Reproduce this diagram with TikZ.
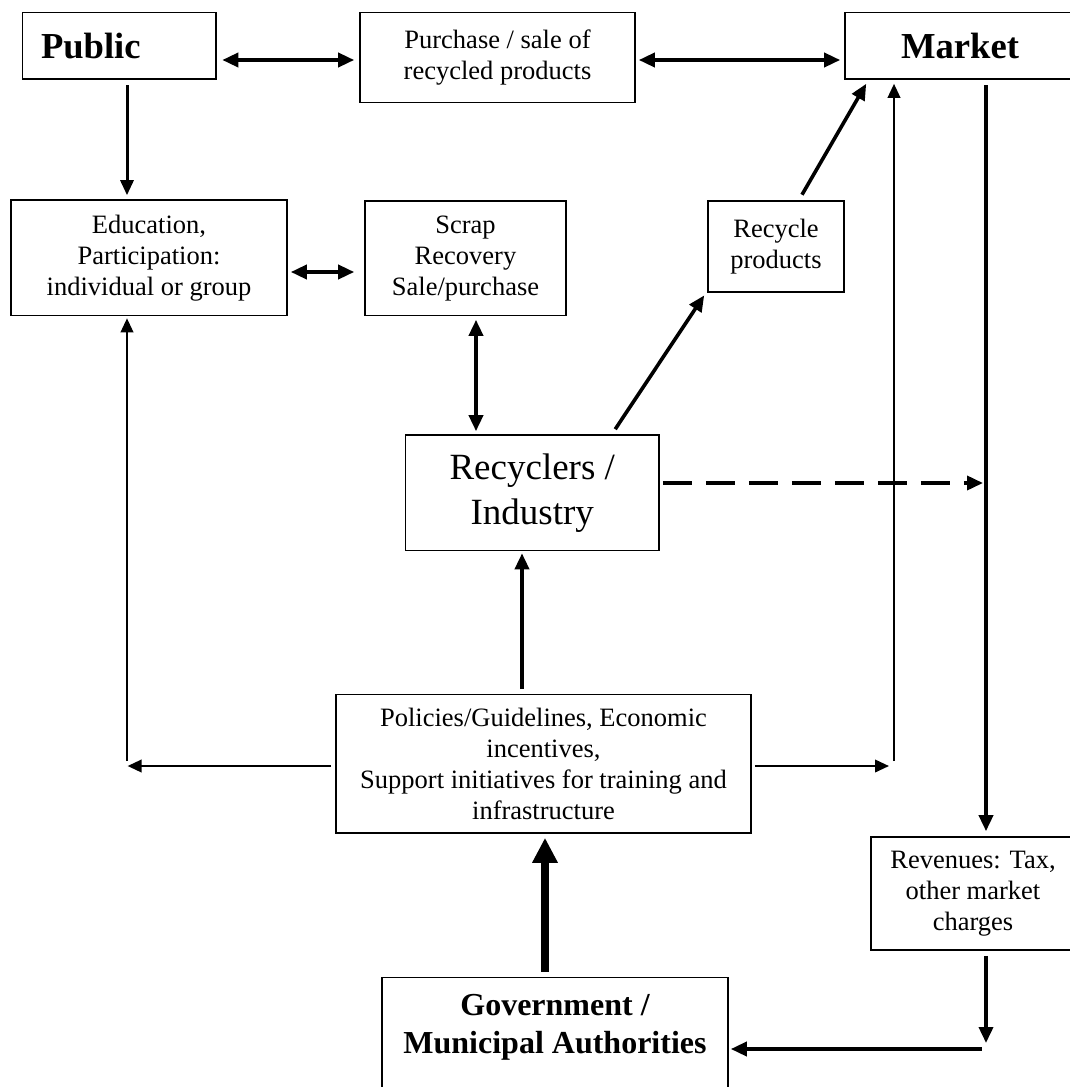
\documentclass[tikz,border=0pt]{standalone}
\usepackage{fontspec}
\setmainfont{Liberation Serif}
\usetikzlibrary{arrows.meta,calc}
\begin{document}
\begin{tikzpicture}[x=1pt,y=-1pt,
  box/.style={draw,line width=1.6pt,inner sep=0pt,align=center,
    font=\fontsize{26.5}{31}\selectfont},
  bigbold/.style={font=\fontsize{36.6}{40}\selectfont\bfseries},
  dbl/.style={line width=3.6pt,{Triangle[length=16pt,width=14pt]}-{Triangle[length=16pt,width=14pt]}},
  thk/.style={line width=3.6pt,-{Triangle[length=16pt,width=14pt]}},
  mid/.style={line width=3pt,-{Triangle[length=15pt,width=13pt]}},
  thn/.style={line width=2.2pt,-{Triangle[length=14pt,width=12.5pt]}},
  dsh/.style={line width=3.6pt,dash pattern=on 29pt off 14pt,-{Triangle[length=16pt,width=14pt]}},
  huge/.style={line width=7.8pt,-{Triangle[length=25pt,width=24pt]}},
]
\useasboundingbox (0,0) rectangle (1070,1087);

% boxes
\node[box,minimum width=193.5,minimum height=66.5,text width=156.5,align=left,bigbold] (public) at (119.25,45.75) {Public};
\node[box,minimum width=275,minimum height=90] (purchase) at (497.5,57.5) {Purchase / sale of\\recycled products};
\node[box,minimum width=230,minimum height=66.5,bigbold] (market) at (960,45.75) {Market};
\node[box,minimum width=276,minimum height=115.5] (edu) at (149,257.75) {Education,\\Participation:\\individual or group};
\node[box,minimum width=201,minimum height=114.5] (scrap) at (465.5,258.25) {Scrap\\Recovery\\Sale/purchase};
\node[box,minimum width=136,minimum height=91] (recycle) at (776,246.5) {Recycle\\products};
\node[box,minimum width=253.5,minimum height=115.5,font=\fontsize{37}{45}\selectfont] (recyclers) at (532.25,492.75) {Recyclers /\\Industry};
\node[box,minimum width=415,minimum height=138.4] (policies) at (543.5,763.8) {Policies/Guidelines, Economic\\incentives,\\Support initiatives for training and\\infrastructure};
\node[box,minimum width=204,minimum height=113] (revenues) at (973,893.5) {Revenues: Tax,\\other market\\charges};
\node[box,minimum width=346,minimum height=117.5] (gov) at (555,1036.25) {};
\node[align=center,inner sep=0pt,font=\fontsize{32}{38}\selectfont\bfseries] (govtext) at (555,1027) {Government /\\Municipal Authorities};

% helper coordinates
\coordinate (r60) at (0,60);
\coordinate (r272) at (0,272);
\coordinate (c127) at (127,0);
\coordinate (c476) at (476,0);
\coordinate (c522) at (522,0);
\coordinate (c545) at (545,0);
\coordinate (c986) at (986,0);
\coordinate (r766) at (0,766);
\coordinate (dashend) at (983,483);
\coordinate (lcorner) at (127.6,766);
\coordinate (lbot) at (127,760.5);
\coordinate (rcorner) at (889,766);
\coordinate (rbot) at (894,761);
\coordinate (rbend) at (986,1043);
\coordinate (hstart) at (981.6,1049);

% connectors
\draw[dbl,shorten <=5.5pt,shorten >=5pt] (public.east |- r60) -- (purchase.west |- r60);
\draw[dbl,shorten <=3pt,shorten >=4pt] (purchase.east |- r60) -- (market.west |- r60);
\draw[mid,shorten <=5.5pt,shorten >=4pt] (public.south -| c127) -- (edu.north -| c127);
\draw[dbl,shorten <=3pt,shorten >=10pt] (edu.east |- r272) -- (scrap.west |- r272);
\draw[dbl,shorten <=3.5pt,shorten >=3pt] (scrap.south -| c476) -- (recyclers.north -| c476);
\draw[thk] ($(recyclers.north west)+(210.5,-5)$) -- ($(recycle.south west)+(-3,2.6)$);
\draw[thk] ($(recycle.north)+(26,-5.5)$) -- ($(market.south west)+(22,4)$);
\draw[dsh,shorten <=3pt] (recyclers.east |- dashend) -- (dashend);
\draw[thk,shorten <=4.6pt,shorten >=2pt] (policies.north -| c522) -- (recyclers.south -| c522);
\draw[thn,shorten <=4pt] (policies.west |- r766) -- (lcorner);
\draw[thn,shorten >=2pt] (lbot) -- (edu.south -| lbot);
\draw[thn,shorten <=3pt] (policies.east |- r766) -- (rcorner);
\draw[thn,shorten >=4pt] (rbot) -- (market.south -| rbot);
\draw[thk,shorten <=5.6pt,shorten >=5pt] (market.south -| c986) -- (revenues.north -| c986);
\draw[thk,shorten <=5pt] (revenues.south -| c986) -- (rbend);
\draw[thk,shorten >=2pt] (hstart) -- (gov.east |- hstart);
\draw[huge,shorten <=5pt,shorten >=4pt] (gov.north -| c545) -- (policies.south -| c545);
\end{tikzpicture}
\end{document}
